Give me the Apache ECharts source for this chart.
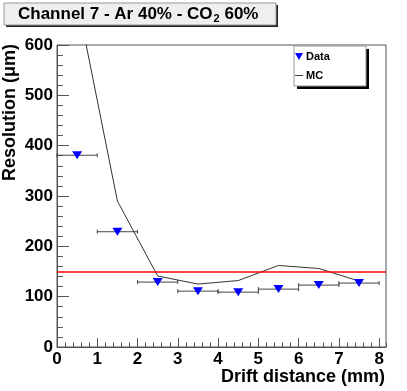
<!DOCTYPE html>
<html>
<head>
<meta charset="utf-8">
<script src="https://cdn.jsdelivr.net/npm/echarts@6/dist/echarts.min.js"></script>
<style>
html,body{margin:0;padding:0;background:#fff;}
#chart{width:407px;height:391px;}
</style>
</head>
<body>
<div id="chart"></div>
<script>
// ---- data ----
const xCenters = [0.5, 1.5, 2.5, 3.5, 4.5, 5.5, 6.5, 7.5];
const xErrors  = [0.5, 0.5, 0.5, 0.5, 0.5, 0.5, 0.5, 0.5];
const dataRes  = [381, 229, 129, 111, 109, 115, 123, 127];
const mcRes    = [690, 290, 141, 125, 132, 162, 156, 131];
const refLevel = 150;
const xMajorTicks = [0, 1, 2, 3, 4, 5, 6, 7, 8];
const titleParts = ['Channel 7 - Ar 40% - CO', '2', ' 60%'];
const xTitle = 'Drift distance (mm)';
const yTitle = 'Resolution (\u03bcm)';
const legendNames = ['Data', 'MC'];

const FONT = '"Liberation Sans", Arial, Helvetica, sans-serif';
const AX = '#555';

const chart = echarts.init(document.getElementById('chart'), null, {renderer: 'canvas'});

const dataPts = xCenters.map((x, i) => [x, dataRes[i]]);
const errPts = xCenters.map((x, i) => [x, dataRes[i], xErrors[i]]);
const mcPts = xCenters.map((x, i) => [x, mcRes[i]]);

const option = {
  animation: false,
  backgroundColor: '#fff',
  grid: {left: 57, right: 21, top: 45, bottom: 44, show: true, borderColor: AX, borderWidth: 1, backgroundColor: 'transparent'},
  xAxis: [
    {
      type: 'value', min: 0, max: 8.17, interval: 1, position: 'bottom',
      axisLine: {show: true, lineStyle: {color: AX, width: 1}},
      axisTick: {show: true, inside: true, length: 9, customValues: xMajorTicks, lineStyle: {color: AX}},
      axisLabel: {show: true, customValues: xMajorTicks, margin: 4, color: '#000', fontSize: 17, fontWeight: 'bold', fontFamily: FONT,
        formatter: v => (Math.abs(v - Math.round(v)) < 1e-6 ? String(Math.round(v)) : '')},
      splitLine: {show: false}
    },
    {
      type: 'value', min: 0, max: 8.17, interval: 0.2, position: 'bottom',
      axisLine: {show: false},
      axisTick: {show: true, inside: true, length: 4.5, lineStyle: {color: AX}},
      axisLabel: {show: false},
      splitLine: {show: false}
    }
  ],
  yAxis: {
    type: 'value', min: 0, max: 600, interval: 100,
    axisLine: {show: true, lineStyle: {color: AX, width: 1}},
    axisTick: {show: true, inside: true, length: 12, lineStyle: {color: AX}},
    minorTick: {show: true, splitNumber: 5, length: 6, lineStyle: {color: AX}},
    axisLabel: {margin: 4, color: '#000', fontSize: 17, fontWeight: 'bold', fontFamily: FONT},
    splitLine: {show: false}
  },
  legend: {
    orient: 'vertical', left: 295, top: 51, padding: 0, itemGap: 8,
    itemWidth: 8, itemHeight: 8, z: 60,
    textStyle: {fontSize: 11, fontWeight: 'bold', fontFamily: FONT, color: '#000', padding: [0, 0, 0, -2]},
    data: [
      {name: legendNames[0], icon: 'path://M0,0L10,0L5,9Z'},
      {name: legendNames[1], icon: 'path://M0,0L10,0L10,1.2L0,1.2Z', itemStyle: {color: '#333'}}
    ]
  },
  graphic: [
    // title box
    {type: 'rect', z: 50, shape: {x: 6, y: 5, width: 272, height: 22}, style: {fill: '#222'}},
    {type: 'rect', z: 51, shape: {x: 4, y: 3, width: 272, height: 22}, style: {fill: '#efefef', stroke: '#999', lineWidth: 1}},
    {type: 'text', z: 52, x: 18, y: 14, style: {
      text: '{a|' + titleParts[0] + '}{s|' + titleParts[1] + '}{a|' + titleParts[2] + '}',
      verticalAlign: 'middle', align: 'left',
      rich: {
        a: {fontSize: 17, fontWeight: 'bold', fontFamily: FONT, fill: '#000', lineHeight: 20},
        s: {fontSize: 11, fontWeight: 'bold', fontFamily: FONT, fill: '#000', padding: [9, 0, 0, 1], lineHeight: 11}
      }
    }},
    // legend box
    {type: 'rect', z: 50, shape: {x: 297, y: 49, width: 72, height: 40}, style: {fill: '#000'}},
    {type: 'rect', z: 51, shape: {x: 294, y: 46, width: 72, height: 40}, style: {fill: '#fff', stroke: '#999', lineWidth: 1}},
    // axis titles
    {type: 'text', z: 52, x: 385, y: 377, style: {text: xTitle, align: 'right', verticalAlign: 'middle',
      fontSize: 18, fontWeight: 'bold', fontFamily: FONT, fill: '#000'}},
    {type: 'text', z: 52, x: 10, y: 44, rotation: Math.PI / 2, style: {text: yTitle, align: 'right', verticalAlign: 'middle',
      fontSize: 18, fontWeight: 'bold', fontFamily: FONT, fill: '#000'}}
  ],
  series: [
    {
      name: 'errbars', type: 'custom', xAxisIndex: 0, yAxisIndex: 0, z: 3, silent: true,
      data: errPts,
      renderItem: function (params, api) {
        const x = api.value(0), y = api.value(1), e = api.value(2);
        const p0 = api.coord([x - e, y]);
        const p1 = api.coord([x + e, y]);
        const st = {stroke: '#444', lineWidth: 1};
        return {type: 'group', children: [
          {type: 'line', shape: {x1: p0[0], y1: p0[1], x2: p1[0], y2: p1[1]}, style: st},
          {type: 'line', shape: {x1: p0[0], y1: p0[1] - 2, x2: p0[0], y2: p0[1] + 2}, style: st},
          {type: 'line', shape: {x1: p1[0], y1: p1[1] - 2, x2: p1[0], y2: p1[1] + 2}, style: st}
        ]};
      }
    },
    {
      name: legendNames[1], type: 'line', xAxisIndex: 0, yAxisIndex: 0, z: 4,
      data: mcPts, showSymbol: false, symbol: 'none', clip: true,
      lineStyle: {color: '#333', width: 1}, itemStyle: {color: '#333'},
      markLine: {
        silent: true, symbol: 'none', label: {show: false},
        lineStyle: {color: '#ff0000', width: 1.5, type: 'solid'},
        data: [{yAxis: refLevel}]
      }
    },
    {
      name: legendNames[0], type: 'scatter', xAxisIndex: 0, yAxisIndex: 0, z: 5,
      data: dataPts, symbol: 'triangle', symbolRotate: 180, symbolSize: [10, 8],
      itemStyle: {color: '#0000ff', opacity: 1}
    }
  ]
};
chart.setOption(option);
</script>
</body>
</html>
